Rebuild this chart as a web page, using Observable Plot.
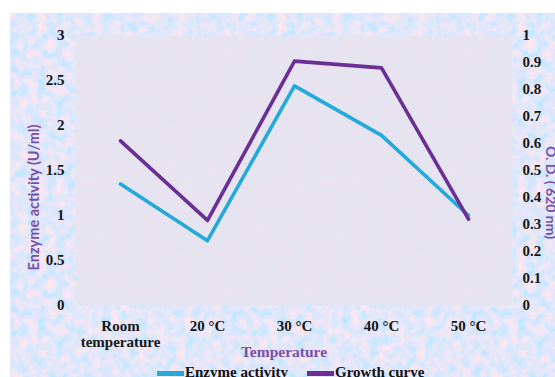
<!DOCTYPE html>
<html>
<head>
<meta charset="utf-8">
<script src="https://cdn.jsdelivr.net/npm/d3@7"></script>
<script src="https://cdn.jsdelivr.net/npm/@observablehq/plot@0.6"></script>
<style>
  html, body { margin: 0; padding: 0; background: #ffffff; }
  #wrap { position: relative; width: 555px; height: 377px; overflow: hidden; background: #ffffff; }
  #bg {
    position: absolute; left: 10px; top: 13px; width: 545px; height: 364px;
    background-color: #c4d3f0;
    background-image: url("data:image/svg+xml;utf8,<svg xmlns='http://www.w3.org/2000/svg' width='240' height='240'><filter id='n' x='0' y='0' width='100%' height='100%'><feTurbulence type='fractalNoise' baseFrequency='0.11' numOctaves='4' seed='4' stitchTiles='stitch'/><feColorMatrix values='0.8 0 0 0 0.36  0 0 0 0 0.80  -0.3 0 0 0 1.1  0 0 0 0 1'/></filter><rect width='240' height='240' filter='url(%23n)'/></svg>");
  }
  #chart { position: absolute; left: 0; top: 0; }
  #legend { position: absolute; left: 0; top: 360px; width: 555px; height: 17px;
    font-family: "Liberation Serif", serif; font-weight: bold; font-size: 15px; color: #111; }
  .sw { position: absolute; top: 11px; width: 27px; height: 5px; }
  .lt { position: absolute; top: 5px; line-height: 15px; white-space: nowrap; }
</style>
</head>
<body>
<div id="wrap">
  <div id="bg"></div>
  <div id="chart"></div>
  <div id="legend"></div>
</div>
<script>
const categories = ["Room temperature", "20 °C", "30 °C", "40 °C", "50 °C"];
const xTickLabels = ["Room\ntemperature", "20 °C", "30 °C", "40 °C", "50 °C"];
const enzymeActivity = [1.35, 0.72, 2.44, 1.89, 1.0];
const growthCurve = [0.61, 0.315, 0.905, 0.88, 0.32];
const leftTicks = [0, 0.5, 1, 1.5, 2, 2.5, 3];
const rightTicks = [0, 0.1, 0.2, 0.3, 0.4, 0.5, 0.6, 0.7, 0.8, 0.9, 1];
const seriesNames = ["Enzyme activity", "Growth curve"];
const seriesColors = ["#23a9da", "#6a2e94"];

const RIGHT_FACTOR = 3; // right axis 0–1 maps onto left axis 0–3

const enzymeData = categories.map((c, i) => ({cat: c, v: enzymeActivity[i]}));
const growthData = categories.map((c, i) => ({cat: c, v: growthCurve[i] * RIGHT_FACTOR}));

const purple = "#7b4ea6";

const chart = Plot.plot({
  width: 555,
  height: 360,
  marginLeft: 75,
  marginRight: 43,
  marginTop: 35,
  marginBottom: 55,
  style: {background: "transparent", fontFamily: "'Liberation Serif', serif", fontSize: "15px", fontWeight: "bold", color: "#161616"},
  x: {type: "point", domain: categories, padding: 0.5},
  y: {domain: [0, 3]},
  marks: [
    Plot.frame({fill: "#e7e3ee", fillOpacity: 0.9, stroke: "none"}),
    Plot.axisY({ticks: leftTicks, tickSize: 0, tickPadding: 11, label: null, tickFormat: d => String(d), fontSize: 15, fontWeight: "bold"}),
    Plot.axisY({anchor: "right", ticks: rightTicks.map(t => t * RIGHT_FACTOR), tickSize: 0, tickPadding: 10, label: null,
      tickFormat: d => String(+(d / RIGHT_FACTOR).toFixed(1)), fontSize: 15, fontWeight: "bold"}),
    Plot.axisX({tickSize: 0, tickPadding: 13, label: null, tickFormat: d => xTickLabels[categories.indexOf(d)], fontSize: 15, fontWeight: "bold", lineHeight: 1.13}),
    Plot.line(enzymeData, {x: "cat", y: "v", stroke: seriesColors[0], strokeWidth: 3.6}),
    Plot.line(growthData, {x: "cat", y: "v", stroke: seriesColors[1], strokeWidth: 3.6}),
    Plot.text(["Enzyme activity (U/ml)"], {frameAnchor: "left", dx: -41, dy: 27, rotate: -90, text: d => d,
      fill: purple, fontFamily: "Lato, 'Liberation Sans', sans-serif", fontSize: 14.5, fontWeight: "bold", textAnchor: "middle", lineAnchor: "middle"}),
    Plot.text(["O. D. ( 620 nm)"], {frameAnchor: "right", dx: 38, dy: 22, rotate: 90, text: d => d,
      fill: purple, fontFamily: "Lato, 'Liberation Sans', sans-serif", fontSize: 14, fontWeight: "bold", textAnchor: "middle", lineAnchor: "middle"}),
    Plot.text(["Temperature"], {frameAnchor: "bottom", dx: -10, dy: 47, text: d => d,
      fill: purple, fontFamily: "'Liberation Serif', serif", fontSize: 15.5, fontWeight: "bold", textAnchor: "middle", lineAnchor: "middle"})
  ]
});
document.getElementById("chart").appendChild(chart);

const legend = document.getElementById("legend");
const swatchX = [157, 307];
seriesNames.forEach((name, i) => {
  const sw = document.createElement("div");
  sw.className = "sw";
  sw.style.left = swatchX[i] + "px";
  sw.style.background = seriesColors[i];
  legend.appendChild(sw);
  const t = document.createElement("div");
  t.className = "lt";
  t.style.left = (swatchX[i] + 28) + "px";
  t.textContent = name;
  legend.appendChild(t);
});
</script>
</body>
</html>
